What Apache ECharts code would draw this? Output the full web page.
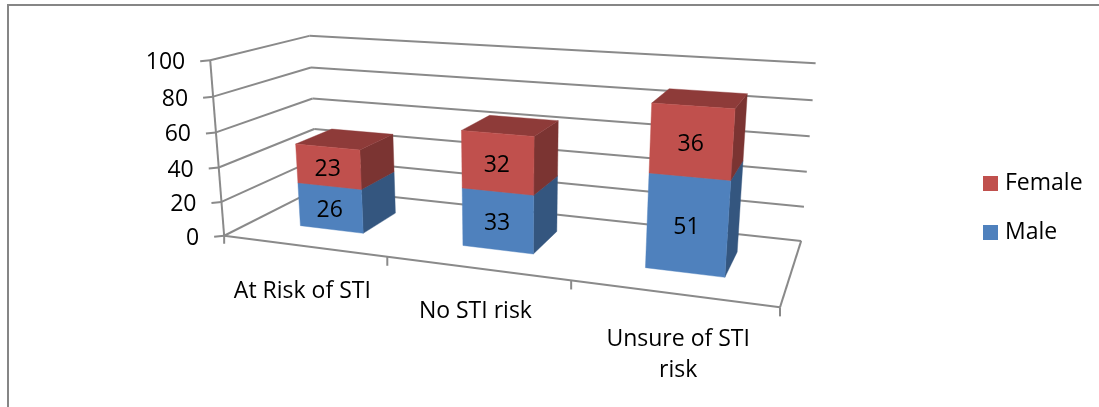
<!DOCTYPE html>
<html>
<head>
<meta charset="utf-8">
<style>html,body{margin:0;padding:0;background:#fff}#chart{width:1099px;height:407px}</style>
<script src="https://cdn.jsdelivr.net/npm/echarts@6/dist/echarts.min.js"></script>
</head>
<body>
<div id="chart"></div>
<script>
// STI risk perception by sex, stacked 3-D columns
const categories = ['At Risk of STI', 'No STI risk', 'Unsure of STI\nrisk'];
const maleValues = [26, 33, 51];
const femaleValues = [23, 32, 36];
const valueTicks = [0, 20, 40, 60, 80, 100];

// Camera calibration: box position (u across, v up, w into the page) -> screen pixel
const cameraAnchors = [
  [0, 0, 0, 224, 235], [1 / 3, 0, 0, 387, 258], [2 / 3, 0, 0, 571, 282], [1, 0, 0, 780, 306],
  [0, 0.2, 0, 222, 202], [0, 0.4, 0, 219, 167], [0, 0.6, 0, 216, 133], [0, 0.8, 0, 213, 96], [0, 1, 0, 210, 60],
  [0, 0.4, 1, 314, 129], [0, 0.6, 1, 313, 98], [0, 0.8, 1, 310, 68], [0, 1, 1, 310, 36],
  [1, 0, 1, 801, 240], [1, 0.2, 1, 804, 207], [1, 0.4, 1, 807, 172], [1, 0.6, 1, 810, 137], [1, 0.8, 1, 813, 100], [1, 1, 1, 815, 63]
];

function solveLinear(A, b) {
  const n = b.length;
  const M = A.map((row, i) => row.concat(b[i]));
  for (let c = 0; c < n; c++) {
    let p = c;
    for (let r = c + 1; r < n; r++) if (Math.abs(M[r][c]) > Math.abs(M[p][c])) p = r;
    [M[c], M[p]] = [M[p], M[c]];
    for (let r = 0; r < n; r++) {
      if (r === c) continue;
      const f = M[r][c] / M[c][c];
      for (let k = c; k <= n; k++) M[r][k] -= f * M[c][k];
    }
  }
  return M.map((row, i) => row[n] / row[i]);
}

// Least-squares fit of an 11-parameter projective camera (pixels scaled by 1/1000)
function fitCamera(points) {
  const rows = [], rhs = [];
  points.forEach(([u, v, w, px, py]) => {
    const x = px / 1000, y = py / 1000;
    rows.push([u, v, w, 1, 0, 0, 0, 0, -x * u, -x * v, -x * w]); rhs.push(x);
    rows.push([0, 0, 0, 0, u, v, w, 1, -y * u, -y * v, -y * w]); rhs.push(y);
  });
  const N = Array.from({ length: 11 }, () => new Array(11).fill(0));
  const t = new Array(11).fill(0);
  rows.forEach((r, i) => {
    for (let a = 0; a < 11; a++) {
      t[a] += r[a] * rhs[i];
      for (let b = 0; b < 11; b++) N[a][b] += r[a] * r[b];
    }
  });
  return solveLinear(N, t);
}
const cam = fitCamera(cameraAnchors);
function project(u, v, w) {
  const d = cam[8] * u + cam[9] * v + cam[10] * w + 1;
  return [
    1000 * (cam[0] * u + cam[1] * v + cam[2] * w + cam[3]) / d,
    1000 * (cam[4] * u + cam[5] * v + cam[6] * w + cam[7]) / d
  ];
}

const FONT = '"Open Sans", Lato, sans-serif';
const TEXT_SIZE = 23;
const GRID_COLOR = '#8a8a8a';
const BAR_FRACTION = 0.4;          // column width as a share of its category
const DEPTH_RANGE = [0.3, 0.7];    // column extent along the floor depth
const CATEGORY_LABEL_SHIFT = [[1, 0], [1, -2], [8, 0]];  // fine placement of the floor labels
const MALE = { front: '#4F81BD', side: '#34567F', top: '#3F6797' };
const FEMALE = { front: '#C0504D', side: '#7B3432', top: '#8E3B39' };

// Data -> normalised box coordinates through the chart's own axes
function boxCoord(api, params, cat, offset, value) {
  const pt = api.coord([cat, value]);
  const band = api.size([1, 0])[0];
  const r = params.coordSys;
  return { u: (pt[0] + offset * band - r.x) / r.width, v: 1 - (pt[1] - r.y) / r.height };
}
const line = (a, b, width) => ({
  type: 'line', silent: true,
  shape: { x1: a[0], y1: a[1], x2: b[0], y2: b[1] },
  style: { stroke: GRID_COLOR, lineWidth: width || 2 }
});
const face = (pts, fill) => ({
  type: 'polygon', silent: true,
  shape: { points: pts },
  style: { fill: fill, stroke: fill, lineWidth: 0.4 }
});
const label = (text, x, y, align, vAlign) => ({
  type: 'text', silent: true,
  style: { text: text, x: x, y: y, align: align, verticalAlign: vAlign, fill: '#000', font: TEXT_SIZE + 'px ' + FONT, lineHeight: 31 }
});

// One value tick: side-wall and back-wall gridlines, tick mark and label
function renderValueTick(params, api) {
  const value = api.value(1);
  const { v } = boxCoord(api, params, 0, 0, value);
  const a = project(0, v, 0), b = project(0, v, 1), c = project(1, v, 1);
  return {
    type: 'group',
    children: [
      line(a, b), line(b, c),
      line([a[0] - 10, a[1] + 1], a),
      label(String(value), a[0] - 25, a[1] + 2.5, 'right', 'middle')
    ]
  };
}

// One category: floor tick on its right boundary and a label under its centre
function renderCategory(params, api) {
  const i = api.value(0);
  const mid = boxCoord(api, params, i, 0, 0);
  const end = boxCoord(api, params, i, 0.5, 0);
  const m = project(mid.u, 0, 0), e = project(end.u, 0, 0);
  const [dx, dy] = CATEGORY_LABEL_SHIFT[i];
  return {
    type: 'group',
    children: [
      line(e, [e[0], e[1] + 9]),
      label(categories[i], m[0] - 2 + dx, m[1] + 30 + dy, 'center', 'top')
    ]
  };
}

// Floor outline and the value-axis spine
function renderFrame() {
  const a = project(0, 0, 0), b = project(1, 0, 0), f = project(1, 0, 1), top = project(0, 1, 0);
  return {
    type: 'group',
    children: [
      line(a, b), line(b, f), line(a, top),
      line(a, [a[0], a[1] + 8])
    ]
  };
}

// A stacked column segment: right side, top and front faces plus the value label
function segmentRenderer(palette) {
  return function (params, api) {
    const i = api.value(0), lo = api.value(1), hi = api.value(2);
    const half = BAR_FRACTION / 2;
    const L0 = boxCoord(api, params, i, -half, lo), R0 = boxCoord(api, params, i, half, lo);
    const L1 = boxCoord(api, params, i, -half, hi), R1 = boxCoord(api, params, i, half, hi);
    const [w0, w1] = DEPTH_RANGE;
    const fbl = project(L0.u, L0.v, w0), fbr = project(R0.u, R0.v, w0);
    const ftl = project(L1.u, L1.v, w0), ftr = project(R1.u, R1.v, w0);
    const bbr = project(R0.u, R0.v, w1), btr = project(R1.u, R1.v, w1), btl = project(L1.u, L1.v, w1);
    const cx = (fbl[0] + fbr[0] + ftl[0] + ftr[0]) / 4;
    const cy = (fbl[1] + fbr[1] + ftl[1] + ftr[1]) / 4;
    return {
      type: 'group',
      children: [
        face([fbr, bbr, btr, ftr], palette.side),
        face([ftl, ftr, btr, btl], palette.top),
        face([fbl, fbr, ftr, ftl], palette.front),
        label(String(hi - lo), cx - 1, cy + 3, 'center', 'middle')
      ]
    };
  };
}

const chart = echarts.init(document.getElementById('chart'), null, { renderer: 'canvas' });
chart.setOption({
  animation: false,
  backgroundColor: '#fff',
  grid: { left: 100, right: 100, top: 50, bottom: 50 },
  xAxis: { type: 'category', data: categories, show: false },
  yAxis: { type: 'value', min: 0, max: 100, interval: 20, show: false },
  legend: {
    orient: 'vertical', left: 978, top: 167, itemWidth: 15, itemHeight: 15, itemGap: 26,
    icon: 'rect', selectedMode: false,
    data: ['Female', 'Male'],
    textStyle: { fontFamily: FONT, fontSize: TEXT_SIZE, color: '#000', padding: [0, 0, 0, 2] }
  },
  graphic: [{
    type: 'polyline', silent: true,
    shape: { points: [[8, 407], [8, 5], [1099, 5]] },
    style: { stroke: '#868686', lineWidth: 2, fill: null }
  }],
  series: [
    { type: 'custom', name: 'Floor', silent: true, z: 1, data: [[0, 0]], renderItem: renderFrame },
    { type: 'custom', name: 'Value ticks', silent: true, z: 1, data: valueTicks.map(v => [0, v]), renderItem: renderValueTick },
    { type: 'custom', name: 'Category ticks', silent: true, z: 1, data: categories.map((c, i) => [i, 0]), renderItem: renderCategory },
    {
      type: 'custom', name: 'Male', silent: true, z: 3, itemStyle: { color: MALE.front },
      data: maleValues.map((m, i) => [i, 0, m]), renderItem: segmentRenderer(MALE)
    },
    {
      type: 'custom', name: 'Female', silent: true, z: 3, itemStyle: { color: FEMALE.front },
      data: femaleValues.map((f, i) => [i, maleValues[i], maleValues[i] + f]), renderItem: segmentRenderer(FEMALE)
    }
  ]
});
</script>
</body>
</html>
